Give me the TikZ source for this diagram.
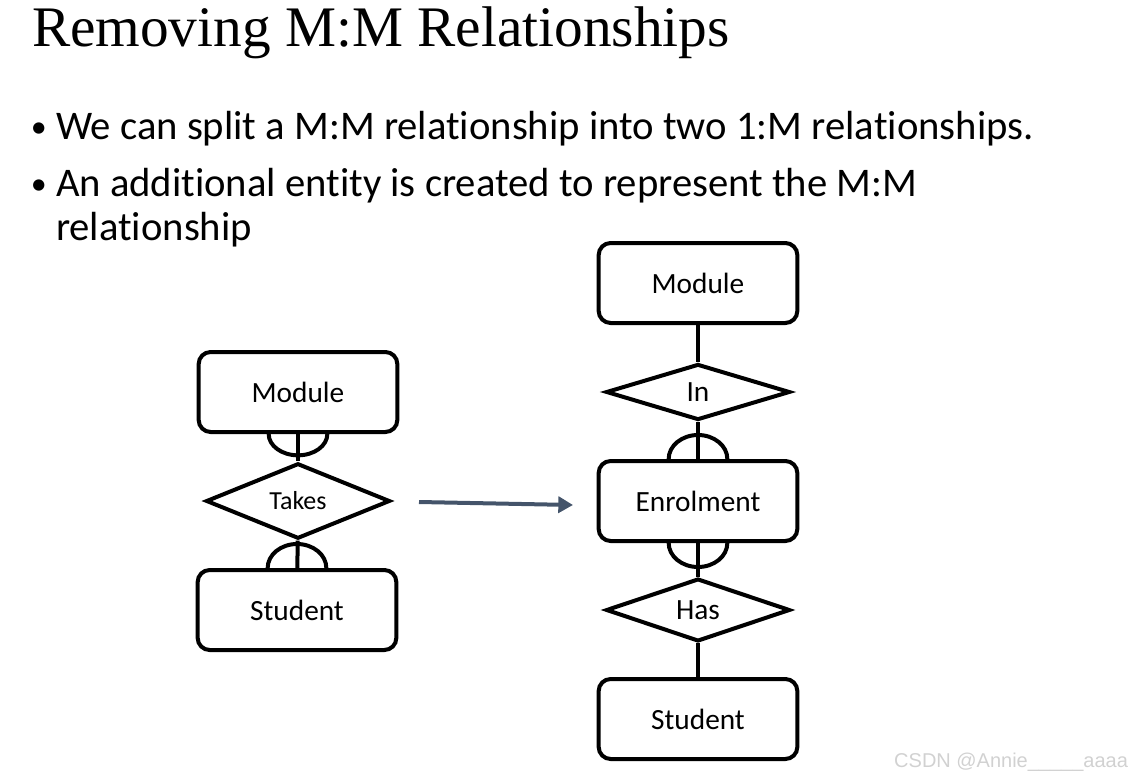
\documentclass[tikz,border=0pt]{standalone}
\usepackage{fontspec}
\setmainfont[Ligatures=NoCommon]{Carlito}
\newfontfamily\titlefont{Liberation Serif}
\newfontfamily\wmfont{Liberation Sans}
\usetikzlibrary{shapes.geometric,arrows.meta}
\begin{document}
\begin{tikzpicture}[x=0.75pt,y=-0.75pt,line width=3pt,
  entity/.style={draw,rounded corners=9pt,minimum width=149pt,minimum height=60pt,font=\fontsize{22}{26}\selectfont},
  rel/.style={draw,diamond,inner sep=0pt,minimum width=138pt,minimum height=42pt,font=\fontsize{22}{26}\selectfont},
  bullet/.style={anchor=base west,inner sep=0pt,font=\fontsize{30.5}{36}\selectfont}]
\useasboundingbox (0,0) rectangle (1135,781);
% heading and text
\node[anchor=base west,inner sep=0pt,font=\titlefont\fontsize{43}{50}\selectfont] (title) at (30,47) {Removing M:M Relationships};
\node[bullet,font=\fontsize{24}{30}\selectfont] (b1) at (29,138) {\textbullet};
\node[bullet] (t1) at (54,140) {We can split a M:M relationship into two 1:M relationships.};
\node[bullet,font=\fontsize{24}{30}\selectfont] (b2) at (29,195) {\textbullet};
\node[bullet] (t2) at (54,197) {An additional entity is created to represent the M:M};
\node[bullet] (t3) at (54,240) {relationship};
% before
\node[entity] (mod) at (298,392) {Module};
\node[rel,font=\fontsize{19.5}{24}\selectfont] (takes) at (298,501) {Takes};
\node[entity] (stud) at (297,610) {Student};
\draw (mod) -- (takes);
\draw (takes) -- (stud);
\draw (mod.south) ++(-22pt,0) arc[start angle=180,end angle=360,x radius=22pt,y radius=16pt];
\draw (stud.north) ++(-22pt,0) arc[start angle=180,end angle=0,x radius=22pt,y radius=18pt];
% arrow
\coordinate (a1) at (419,502);
\coordinate (a2) at (573,505);
\draw[-{Triangle[length=11pt,width=12pt]},line width=3pt,color={rgb,255:red,68;green,84;blue,106}] (a1) -- (a2);
% after
\node[entity] (modR) at (698,283) {Module};
\node[rel] (inR) at (698,392) {In};
\node[entity] (enrol) at (698,501) {Enrolment};
\node[rel] (has) at (698,610) {Has};
\node[entity] (studR) at (698,719) {Student};
\draw (modR) -- (inR);
\draw (inR) -- (enrol);
\draw (enrol) -- (has);
\draw (has) -- (studR);
\draw (enrol.north) ++(-22pt,0) arc[start angle=180,end angle=0,x radius=22pt,y radius=18pt];
\draw (enrol.south) ++(-22pt,0) arc[start angle=180,end angle=360,x radius=22pt,y radius=18pt];
% watermark
\node[anchor=base east,inner sep=0pt,text=black!18,font=\wmfont\fontsize{15}{18}\selectfont] (wm) at (1130,767) {CSDN @Annie\_\_\_\_\_aaaa};
\end{tikzpicture}
\end{document}
